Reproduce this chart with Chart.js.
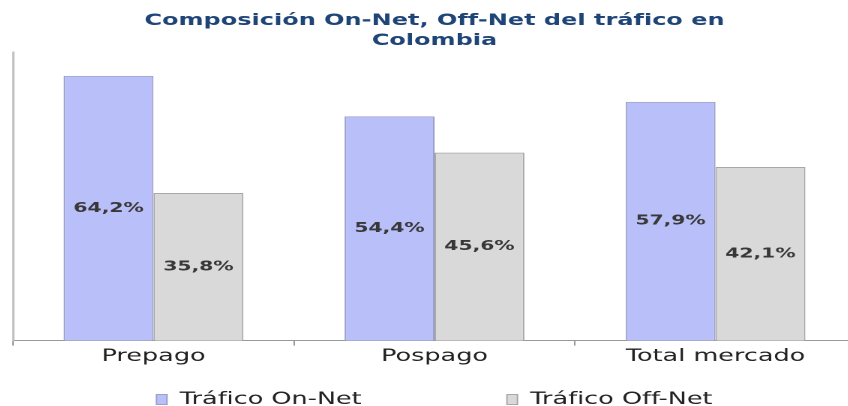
<!DOCTYPE html>
<html lang="es">
<head>
    <meta charset="UTF-8">
    <title>Composición On-Net, Off-Net del tráfico en Colombia</title>
    <script src="https://cdn.jsdelivr.net/npm/chart.js"></script>
    <style>
        html, body {
            margin: 0;
            padding: 0;
            background: #ffffff;
            overflow: hidden;
        }
        /* the original picture is stretched sideways, so the chart is too */
        .wrap {
            position: absolute;
            left: 4px;
            top: 0;
            width: 574px;
            height: 418px;
            transform: scaleX(1.5);
            transform-origin: 0 0;
        }
    </style>
</head>
<body>
    <div class="wrap">
        <canvas id="chart"></canvas>
    </div>

    <script>
        const categories = ['Prepago', 'Pospago', 'Total mercado'];
        const onNet = [64.2, 54.4, 57.9];
        const offNet = [35.8, 45.6, 42.1];
        const seriesNames = ['Tráfico On-Net', 'Tráfico Off-Net'];

        // labels in the middle of each bar, "64,2%" style
        const barLabels = {
            id: 'barLabels',
            afterDatasetsDraw(chart) {
                const ctx = chart.ctx;
                ctx.save();
                ctx.font = 'bold 13.5px "DejaVu Sans"';
                ctx.fillStyle = '#383838';
                ctx.textAlign = 'center';
                ctx.textBaseline = 'middle';
                chart.data.datasets.forEach((ds, i) => {
                    chart.getDatasetMeta(i).data.forEach((bar, j) => {
                        const y = (bar.y + bar.base) / 2;
                        ctx.fillText(ds.data[j].toFixed(1).replace('.', ',') + '%', bar.x, y);
                    });
                });
                ctx.restore();
            }
        };

        new Chart(document.getElementById('chart'), {
            type: 'bar',
            data: {
                labels: categories,
                datasets: [{
                    label: seriesNames[0],
                    data: onNet,
                    backgroundColor: '#b9bff9',
                    borderColor: '#9c9fc9',
                    borderWidth: 1
                }, {
                    label: seriesNames[1],
                    data: offNet,
                    backgroundColor: '#d9d9d9',
                    borderColor: '#a8a8a8',
                    borderWidth: 1
                }]
            },
            options: {
                responsive: true,
                maintainAspectRatio: false,
                animation: false,
                devicePixelRatio: 2,
                layout: { padding: { left: 6, right: 6, top: 5, bottom: 0 } },
                datasets: {
                    bar: { categoryPercentage: 0.64, barPercentage: 1.0 }
                },
                scales: {
                    x: {
                        grid: {
                            display: true,
                            drawOnChartArea: false,
                            tickLength: 5,
                            color: '#999999',
                            offset: true
                        },
                        border: { color: '#999999' },
                        ticks: {
                            color: '#222222',
                            font: { family: 'DejaVu Sans', size: 17 },
                            padding: 1
                        },
                        afterFit(scale) { scale.height += 18; }
                    },
                    y: {
                        min: 0,
                        max: 70,
                        grid: { display: false },
                        border: { color: '#c0c0c0', width: 1.5 },
                        ticks: { display: false },
                        afterFit(scale) { scale.width = 0; }
                    }
                },
                plugins: {
                    title: {
                        display: true,
                        text: ['Composición On-Net, Off-Net del tráfico en', 'Colombia'],
                        color: '#1f4577',
                        font: { family: 'DejaVu Sans', size: 16, weight: 'bold', lineHeight: 1.25 },
                        padding: { top: 6, bottom: 1 }
                    },
                    legend: {
                        position: 'bottom',
                        labels: {
                            color: '#222222',
                            font: { family: 'DejaVu Sans', size: 17 },
                            boxWidth: 7,
                            boxHeight: 10,
                            padding: 5,
                            // wide gap between the two entries, as in the original
                            generateLabels(chart) {
                                const items = Chart.defaults.plugins.legend.labels.generateLabels(chart);
                                items[0].text += '\u00a0'.repeat(17);
                                return items;
                            }
                        }
                    },
                    tooltip: { enabled: false }
                }
            },
            plugins: [barLabels]
        });
    </script>
</body>
</html>
